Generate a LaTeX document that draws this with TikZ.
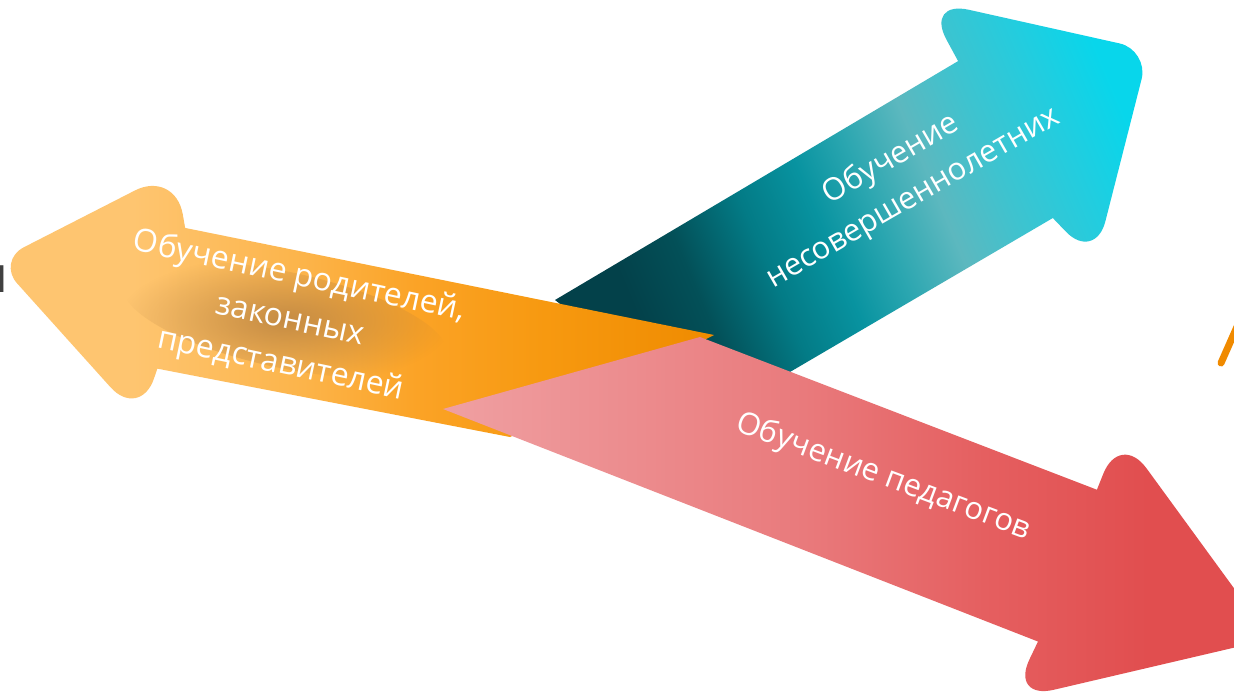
\documentclass[tikz,border=0pt]{standalone}
\usepackage{fontspec}
\setmainfont{Open Sans}
\usetikzlibrary{fadings,calc}
\definecolor{t0}{HTML}{03414A}
\definecolor{t1}{HTML}{035058}
\definecolor{t2}{HTML}{037B86}
\definecolor{t3}{HTML}{0893A0}
\definecolor{t4}{HTML}{2AA6B0}
\definecolor{t5}{HTML}{5CB8BF}
\definecolor{t6}{HTML}{3EC3CF}
\definecolor{t7}{HTML}{22CDDF}
\definecolor{t8}{HTML}{08D6EB}
\definecolor{o1}{HTML}{FEC570}
\definecolor{o2}{HTML}{FCB44A}
\definecolor{o3}{HTML}{FBA326}
\definecolor{o4}{HTML}{F79910}
\definecolor{o5}{HTML}{EF8B00}
\definecolor{r1}{HTML}{EF9EA0}
\definecolor{r2}{HTML}{E97A7C}
\definecolor{r3}{HTML}{E55F60}
\definecolor{r4}{HTML}{E14E4F}
\definecolor{glowc}{HTML}{AE7A40}
\definecolor{edgeorange}{HTML}{F08A00}
\definecolor{glyph}{HTML}{404040}
\pgfdeclarehorizontalshading{tealsh}{100bp}{color(0bp)=(t0); color(28bp)=(t0); color(34bp)=(t1); color(41bp)=(t2); color(47bp)=(t3); color(52bp)=(t4); color(58bp)=(t5); color(64bp)=(t6); color(71bp)=(t7); color(77bp)=(t8); color(100bp)=(t8)}
\pgfdeclarehorizontalshading{orangesh}{100bp}{color(0bp)=(o1); color(34bp)=(o1); color(46bp)=(o2); color(54bp)=(o3); color(63bp)=(o4); color(75bp)=(o5); color(100bp)=(o5)}
\pgfdeclarehorizontalshading{redsh}{100bp}{color(0bp)=(r1); color(26bp)=(r1); color(47bp)=(r2); color(58bp)=(r3); color(68bp)=(r4); color(100bp)=(r4)}
\tikzfading[name=glowfade, inner color=transparent!0, outer color=transparent!100]
\begin{document}
\begin{tikzpicture}[x=1pt,y=-1pt,
  lbl/.style={text=white, align=center, inner sep=0pt}]
\fill[white] (0,0) rectangle (1234,691);
\useasboundingbox (0,0) rectangle (1234,691);
\clip (0,0) rectangle (1234,691);
% partial glyph at left edge
\node[anchor=base east, inner sep=0pt, text=glyph, font=\fontsize{50}{60}\selectfont] (edgeglyph) at (8,292) {и};
% ---------- teal arrow ----------
\coordinate (tU) at (925,0);
\coordinate (tT) at (1149,50);
\coordinate (tL) at (1095,262);
\coordinate (tIU) at (977,96);
\coordinate (tIL) at (1025,189);
\shade[shading=tealsh, shading angle=22.8]
  (555,300) -- (992,41) -- (1087,198) -- (708,420) -- cycle
  (tIU) -- ($(tU)!45pt!(tIU)$) .. controls ($(tU)!20pt!(tIU)$) and ($(tU)!20pt!(tT)$) .. ($(tU)!45pt!(tT)$)
  -- ($(tT)!30pt!(tU)$) .. controls ($(tT)!14pt!(tU)$) and ($(tT)!14pt!(tL)$) .. ($(tT)!30pt!(tL)$)
  -- ($(tL)!42pt!(tT)$) .. controls ($(tL)!19pt!(tT)$) and ($(tL)!19pt!(tIL)$) .. ($(tL)!42pt!(tIL)$)
  -- (tIL) -- cycle;
% ---------- orange arrow ----------
\coordinate (oU) at (175,170);
\coordinate (oT) at (-3,261);
\coordinate (oL) at (140,420);
\coordinate (oIU) at (192,267);
\coordinate (oIL) at (170,331);
\shade[shading=orangesh]
  (146,220) -- (714,335) -- (510,437) -- (118,361) -- cycle
  (oIL) -- ($(oL)!44pt!(oIL)$) .. controls ($(oL)!20pt!(oIL)$) and ($(oL)!20pt!(oT)$) .. ($(oL)!44pt!(oT)$)
  -- ($(oT)!30pt!(oL)$) .. controls ($(oT)!14pt!(oL)$) and ($(oT)!14pt!(oU)$) .. ($(oT)!30pt!(oU)$)
  -- ($(oU)!45pt!(oT)$) .. controls ($(oU)!20pt!(oT)$) and ($(oU)!20pt!(oIU)$) .. ($(oU)!45pt!(oIU)$)
  -- (oIU) -- cycle;
\fill[glowc, path fading=glowfade, fill opacity=0.7, rotate around={-12:(285,320)}] (285,320) ellipse [x radius=165, y radius=48];
% ---------- red arrow ----------
\coordinate (rU) at (1120,432);
\coordinate (rT) at (1271,639);
\coordinate (rL) at (1010,700);
\coordinate (rIU) at (1082,527);
\coordinate (rIL) at (1055,606);
\shade[shading=redsh]
  (443,409) -- (700,337) -- (1134,504) -- (1075,656) -- cycle
  (rIU) -- ($(rU)!45pt!(rIU)$) .. controls ($(rU)!20pt!(rIU)$) and ($(rU)!20pt!(rT)$) .. ($(rU)!45pt!(rT)$)
  -- ($(rT)!30pt!(rU)$) .. controls ($(rT)!14pt!(rU)$) and ($(rT)!14pt!(rL)$) .. ($(rT)!30pt!(rL)$)
  -- ($(rL)!45pt!(rT)$) .. controls ($(rL)!20pt!(rT)$) and ($(rL)!20pt!(rIL)$) .. ($(rL)!45pt!(rIL)$)
  -- (rIL) -- cycle;
% orange stroke at right edge
\draw[edgeorange, line width=7, line cap=round] (1221,363) -- (1240,320);
% labels
\node[lbl, rotate=30, font=\fontsize{31}{44}\selectfont] (tealtext) at (902,179) {Обучение\\несовершеннолетних};
\node[lbl, rotate=-12, font=\fontsize{32}{45}\selectfont] (orangetext) at (290,321) {Обучение родителей,\\законных\\представителей};
\node[lbl, rotate=-20.5, font=\fontsize{31}{44}\selectfont] (redtext) at (883,477) {Обучение педагогов};
\end{tikzpicture}
\end{document}
